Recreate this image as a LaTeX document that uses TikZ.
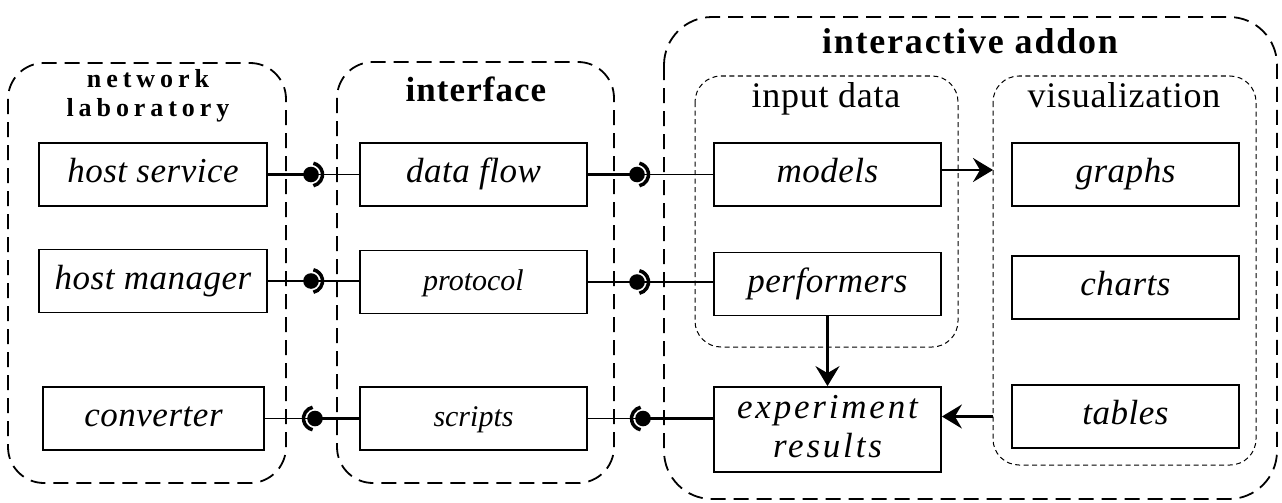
\documentclass[tikz,border=0pt]{standalone}
\usepackage{fontspec}
\setmainfont{Liberation Serif}
\newfontfamily\boxfont{Liberation Serif}[LetterSpace=1.5]
\newfontfamily\boxfontw{Liberation Serif}[LetterSpace=8]
\newfontfamily\ttlfont{Liberation Serif}[LetterSpace=3]
\newfontfamily\widettl{Liberation Serif}[LetterSpace=5]
\newfontfamily\nlfont{Liberation Serif}[LetterSpace=19]
\newfontfamily\subfont{Liberation Serif}[LetterSpace=2]
\usetikzlibrary{arrows.meta,calc}
\begin{document}
\begin{tikzpicture}[x=1pt,y=-1pt,
  grp/.style={draw,line width=1.8pt,dash pattern=on 15pt off 8pt,rounded corners=36pt},
  bgrp/.style={draw,line width=1.8pt,dash pattern=on 15pt off 8pt,rounded corners=48pt},
  sub/.style={draw,line width=1pt,dash pattern=on 5pt off 3.5pt,rounded corners=26pt},
  box/.style={draw,line width=1.8pt,inner sep=0pt,minimum height=63pt,
     text height=22pt,text depth=6pt,
     font=\boxfont\fontsize{35}{40}\selectfont\itshape},
  smallbox/.style={box,font=\rmfamily\fontsize{30}{36}\selectfont\itshape},
  title/.style={anchor=base,inner sep=0pt,font=\ttlfont\fontsize{35}{35}\selectfont\bfseries},
  nltitle/.style={inner sep=0pt,align=center,font=\nlfont\fontsize{26}{29}\selectfont\bfseries},
  subtitle/.style={anchor=base,inner sep=0pt,font=\subfont\fontsize{36}{40}\selectfont},
  ballline/.style={line width=2.6pt},
  sockline/.style={line width=1.6pt},
  ball/.style={fill=black},
  sock/.style={line width=3.5pt},
  arr/.style={line width=2.6pt,-{Stealth[length=20pt,width=24pt,inset=7pt]}}
]
\useasboundingbox (0,0) rectangle (1282,503);
% groups
\draw[grp] (8,63) rectangle (286,483);
\draw[grp] (337,62) rectangle (614,483);
\draw[bgrp] (664,17) rectangle (1277,499);
\draw[sub] (695,76) rectangle (958,347);
\draw[sub] (993,76) rectangle (1256,465);
% titles
\node[nltitle] (tnl) at (148,96) {network\\laboratory};
\node[title] (tif) at (476,101) {interface};
\node[title,font=\widettl\fontsize{36}{36}\selectfont\bfseries] (tia) at (970,53) {interactive addon};
\node[subtitle] (tid) at (826,107) {input data};
\node[subtitle] (tvi) at (1124,107) {visualization};
% boxes
\node[box,minimum width=228pt] (hs) at (153,174.5) {host service};
\node[box,minimum width=228pt] (hm) at (153,281) {host manager};
\node[box,minimum width=221pt] (cv) at (153.5,418.5) {converter};
\node[box,minimum width=227pt] (df) at (473.5,174.5) {data flow};
\node[smallbox,minimum width=227pt] (pr) at (473.5,282) {protocol};
\node[smallbox,minimum width=227pt] (sc) at (473.5,418.5) {scripts};
\node[box,minimum width=227pt] (mo) at (827.5,174.5) {models};
\node[box,minimum width=227pt] (pe) at (827.5,284) {performers};
\node[box,minimum width=227pt,minimum height=85pt,align=center,
  text height=62pt,text depth=7pt,
  font=\boxfontw\fontsize{35}{39}\selectfont\itshape] (ex) at (827.5,429.5) {experiment\\results};
\node[box,minimum width=227pt] (gr) at (1125.5,174.5) {graphs};
\node[box,minimum width=227pt] (ch) at (1125.5,287.5) {charts};
\node[box,minimum width=227pt] (tb) at (1125.5,416.5) {tables};
% ball and socket points
\coordinate (b1) at (311,174.5);
\coordinate (b2) at (311,281);
\coordinate (b3) at (315,418.5);
\coordinate (c1) at (637,174.5);
\coordinate (c2) at (637,282);
\coordinate (c3) at (643,418.5);
% connectors, ball on left side
\foreach \l/\b/\r in {hs/b1/df, hm/b2/pr, df/c1/mo, pr/c2/pe}{
  \draw[sockline] (\b) -- (\b -| \r.west);
  \draw[ballline] (\l.east) -- (\b);
  \fill[ball] (\b) circle[radius=7.8pt];
  \draw[sock] ([shift={(-78:11.5pt)}]\b) arc[start angle=-78,end angle=78,radius=11.5pt];
}
% connectors, ball on right side
\foreach \l/\b/\r in {cv/b3/sc, sc/c3/ex}{
  \draw[sockline] (\l.east) -- (\b);
  \draw[ballline] (\b) -- (\b -| \r.west);
  \fill[ball] (\b) circle[radius=7.8pt];
  \draw[sock] ([shift={(102:11.5pt)}]\b) arc[start angle=102,end angle=258,radius=11.5pt];
}
% arrows
\coordinate (vm) at (993,170);
\coordinate (vt) at (993,416.5);
\draw[arr] (mo.east |- vm) -- (vm);
\draw[arr] (pe.south) -- (ex.north);
\draw[arr] (vt) -- (ex.east |- vt);
\end{tikzpicture}
\end{document}
